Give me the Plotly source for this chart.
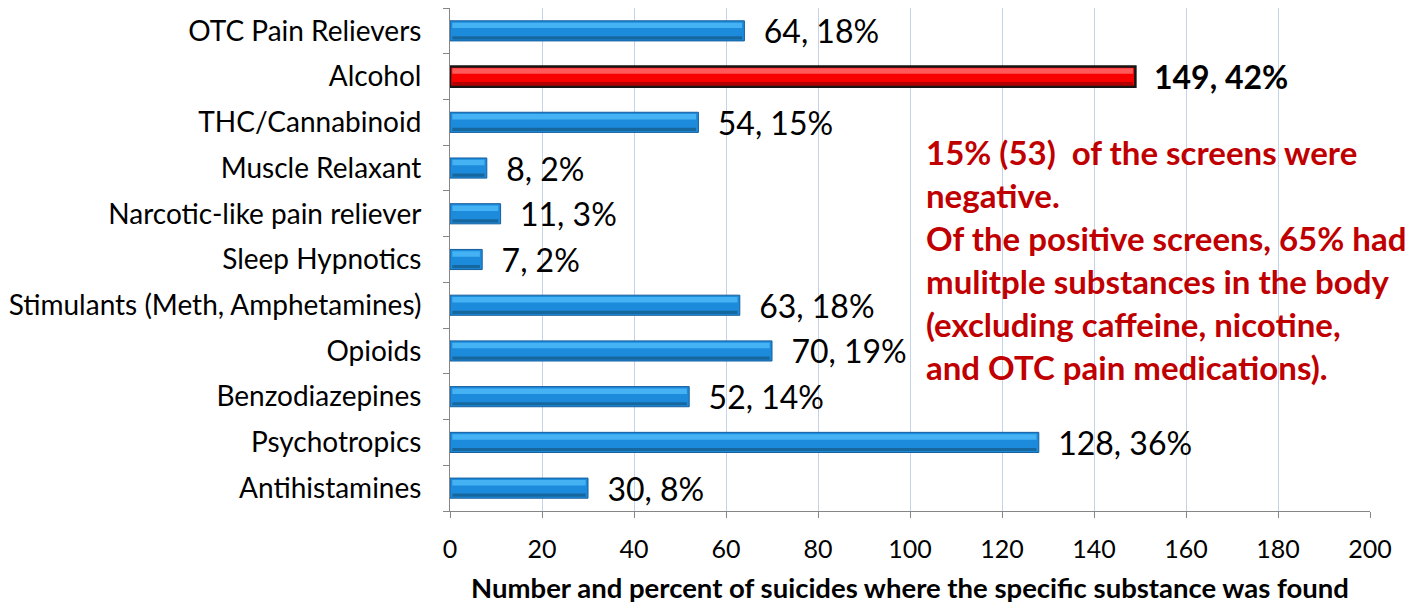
import plotly.graph_objects as go

categories = ["OTC Pain Relievers", "Alcohol", "THC/Cannabinoid", "Muscle Relaxant",
              "Narcotic-like pain reliever", "Sleep Hypnotics",
              "Stimulants (Meth, Amphetamines)", "Opioids", "Benzodiazepines",
              "Psychotropics", "Antihistamines"]
counts = [64, 149, 54, 8, 11, 7, 63, 70, 52, 128, 30]
percents = [18, 42, 15, 2, 3, 2, 18, 19, 14, 36, 8]
highlight = "Alcohol"

x_ticks = [0, 20, 40, 60, 80, 100, 120, 140, 160, 180, 200]
x_title = "Number and percent of suicides where the specific substance was found"
note_lines = ["15% (53)  of the screens were", "negative.",
              "Of the positive screens, 65% had", "mulitple substances in the body",
              "(excluding caffeine, nicotine,", "and OTC pain medications)."]

FONT = "Lato, Carlito, Calibri, 'Open Sans', sans-serif"

is_hi = [c == highlight for c in categories]
fill = ["#F80000" if h else "#1D8BDC" for h in is_hi]
edge = ["#151515" if h else "#155E9C" for h in is_hi]
edge_w = [2.5 if h else 1 for h in is_hi]
labels = [("<b>  %d, %d%%</b>" if h else "  %d, %d%%") % (n, p)
          for h, n, p in zip(is_hi, counts, percents)]

fig = go.Figure()
fig.add_trace(go.Bar(
    y=categories, x=counts, orientation="h",
    marker=dict(color=fill, line=dict(color=edge, width=edge_w)),
    width=0.44,
    text=labels, textposition="outside", cliponaxis=False, constraintext="none",
    textfont=dict(family=FONT, size=32, color="#000000"),
    hoverinfo="skip",
))
# lighter upper band for the glossy look
hi_col = ["#FF5A5A" if h else "#45B2F4" for h in is_hi]
fig.add_trace(go.Bar(
    y=categories, x=[v - 1.0 for v in counts], base=0.5, orientation="h",
    marker=dict(color=hi_col, line=dict(width=0)), width=0.12, offset=0.06,
    hoverinfo="skip",
))
# darker lower band
lo_col = ["#B00000" if h else "#17679F" for h in is_hi]
fig.add_trace(go.Bar(
    y=categories, x=[v - 1.0 for v in counts], base=0.5, orientation="h",
    marker=dict(color=lo_col, line=dict(width=0)), width=0.07, offset=-0.19,
    hoverinfo="skip",
))

fig.update_layout(
    width=1405, height=598,
    margin=dict(l=442, r=43, t=0, b=95),
    paper_bgcolor="white", plot_bgcolor="white",
    showlegend=False, barmode="overlay",
    font=dict(family=FONT, color="#000000"),
    xaxis=dict(range=[0, 200], tickvals=x_ticks, showgrid=True, automargin=False,
               gridcolor="#C3D3EA", gridwidth=1, zeroline=False,
               showline=True, linecolor="#868686", linewidth=1,
               ticks="outside", ticklen=6, tickcolor="#868686",
               tickfont=dict(size=25, family=FONT), ticklabelstandoff=10,
               title=dict(text="<b>" + x_title + "</b>", font=dict(size=27.5, family=FONT),
                          standoff=16)),
    yaxis=dict(categoryorder="array", categoryarray=categories[::-1], automargin=False,
               showline=True, linecolor="#868686", linewidth=1,
               ticks="outside", ticklen=6, tickcolor="#868686",
               tickson="boundaries", showgrid=False,
               tickfont=dict(size=28, family=FONT), ticklabelstandoff=22),
)

fig.add_annotation(
    xref="x", yref="paper", x=103, y=0.5, xanchor="left", yanchor="middle",
    align="left", showarrow=False,
    text="<br>".join("<b>" + l + "</b>" for l in note_lines),
    font=dict(size=33, color="#C00000", family=FONT),
)

fig.write_html("out.html")
